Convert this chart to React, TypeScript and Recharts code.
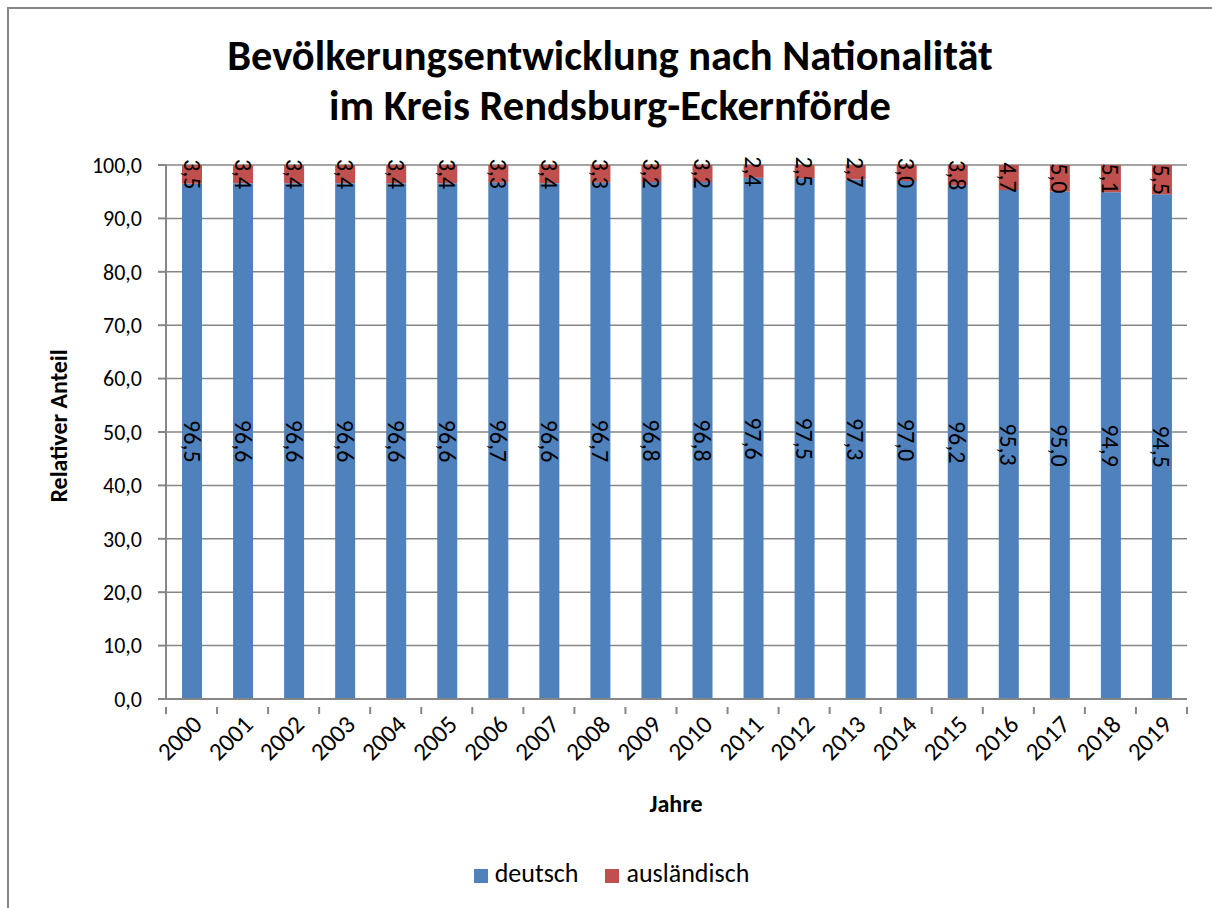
import React from 'react';
import { BarChart, Bar, XAxis, YAxis, CartesianGrid, Legend, LabelList } from 'recharts';

const years = ['2000', '2001', '2002', '2003', '2004', '2005', '2006', '2007', '2008', '2009',
  '2010', '2011', '2012', '2013', '2014', '2015', '2016', '2017', '2018', '2019'];
const deutsch = [96.5, 96.6, 96.6, 96.6, 96.6, 96.6, 96.7, 96.6, 96.7, 96.8,
  96.8, 97.6, 97.5, 97.3, 97.0, 96.2, 95.3, 95.0, 94.9, 94.5];
const auslaendisch = [3.5, 3.4, 3.4, 3.4, 3.4, 3.4, 3.3, 3.4, 3.3, 3.2,
  3.2, 2.4, 2.5, 2.7, 3.0, 3.8, 4.7, 5.0, 5.1, 5.5];
const yTicks = [0, 10, 20, 30, 40, 50, 60, 70, 80, 90, 100];

const data = years.map((y, i) => ({ name: y, deutsch: deutsch[i], ausländisch: auslaendisch[i] }));

const FONT = 'Carlito, Lato, "Liberation Sans", sans-serif';
const fmt = (v: number) => v.toFixed(1).replace('.', ',');

const PLOT_LEFT = 166;
const PLOT_RIGHT = 1187;
const BAND = (PLOT_RIGHT - PLOT_LEFT) / years.length;
const seriesOrder = ['deutsch', 'ausländisch'];

// value label rotated 90deg, centred in the segment
const RotLabel = (props: any) => {
  const { x, y, width, height, value } = props;
  const cx = x + width / 2;
  const cy = y + height / 2;
  return (
    <text x={cx} y={cy} transform={`rotate(90 ${cx} ${cy})`} textAnchor="middle"
      dominantBaseline="central" fontSize={24} fill="#000" fontFamily={FONT}>
      {fmt(Number(value))}
    </text>
  );
};

const YearTick = (props: any) => {
  const { x, y, payload, index } = props;
  const tx = x + 6;
  const ty = y + 13;
  return (
    <g>
      <line x1={x - BAND / 2} y1={y} x2={x - BAND / 2} y2={y + 7} stroke="#868686" strokeWidth={2} />
      {index === years.length - 1 && (
        <line x1={x + BAND / 2} y1={y} x2={x + BAND / 2} y2={y + 7} stroke="#868686" strokeWidth={2} />
      )}
      <text x={tx} y={ty} transform={`rotate(-45 ${tx} ${ty})`} textAnchor="end"
        dominantBaseline="central" fontSize={25} fill="#000" fontFamily={FONT}>
        {payload.value}
      </text>
    </g>
  );
};

export default function App() {
  return (
    <div style={{ position: 'absolute', left: 0, top: 0, width: 1212, height: 908, background: '#fff', overflow: 'hidden', fontFamily: FONT }}>
      <div style={{ position: 'absolute', left: 7, top: 7, width: 1220, height: 920, border: '2px solid #868686', boxSizing: 'border-box' }} />
      <div style={{ position: 'absolute', left: 0, width: 1220, top: 31, textAlign: 'center', fontWeight: 'bold', fontSize: 42.5, lineHeight: '50px', color: '#000' }}>
        Bevölkerungsentwicklung nach Nationalität<br />im Kreis Rendsburg-Eckernförde
      </div>
      <div style={{ position: 'absolute', left: 58, top: 426, transform: 'translate(-50%, -50%) rotate(-90deg)', whiteSpace: 'nowrap', fontWeight: 'bold', fontSize: 24, color: '#000' }}>
        Relativer Anteil
      </div>
      <div style={{ position: 'absolute', left: 676, top: 803, transform: 'translate(-50%, -50%)', whiteSpace: 'nowrap', fontWeight: 'bold', fontSize: 24, color: '#000' }}>
        Jahre
      </div>
      <BarChart
        width={1212}
        height={908}
        data={data}
        barSize={20}
        margin={{ top: 165, right: 1212 - PLOT_RIGHT, left: PLOT_LEFT - 90, bottom: 0 }}
        style={{ position: 'absolute', left: 0, top: 0 }}
      >
        <CartesianGrid vertical={false} stroke="#868686" strokeWidth={1.5} />
        <XAxis dataKey="name" height={209} interval={0} tickLine={false}
          axisLine={{ stroke: '#868686', strokeWidth: 2 }} tick={<YearTick />} />
        <YAxis width={90} domain={[0, 100]} ticks={yTicks} tickFormatter={fmt}
          tickSize={8} tickMargin={16} axisLine={{ stroke: '#868686', strokeWidth: 2 }}
          tickLine={{ stroke: '#868686', strokeWidth: 2 }}
          tick={{ fill: '#000', fontSize: 22, fontFamily: FONT }} />
        <Legend layout="horizontal" verticalAlign="middle" align="center" iconType="square" iconSize={14}
          itemSorter={(item: any) => seriesOrder.indexOf(item.value)}
          wrapperStyle={{ top: 857, left: 0, width: 1250, fontSize: 26, fontFamily: FONT }}
          formatter={(v: string) => <span style={{ color: '#000', marginLeft: 3, marginRight: 17 }}>{v}</span>} />
        <Bar dataKey="deutsch" stackId="a" fill="#4F81BD" isAnimationActive={false}>
          <LabelList dataKey="deutsch" content={<RotLabel />} />
        </Bar>
        <Bar dataKey="ausländisch" stackId="a" fill="#C0504D" isAnimationActive={false}>
          <LabelList dataKey="ausländisch" content={<RotLabel />} />
        </Bar>
      </BarChart>
    </div>
  );
}
